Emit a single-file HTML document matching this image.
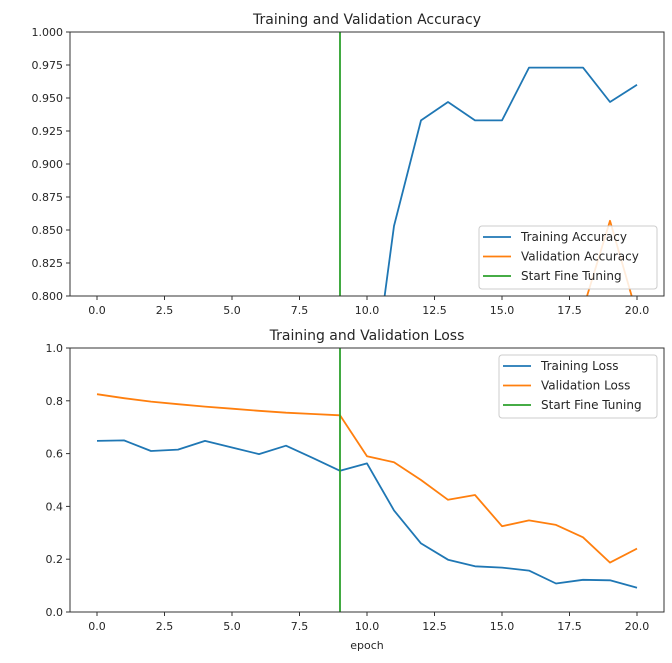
<!DOCTYPE html>
<html><head><meta charset="utf-8">
<style>
body{margin:0;background:#fff;}
svg text{font-family:"DejaVu Sans","Liberation Sans",sans-serif;fill:#262626;}
</style></head>
<body>
<svg id="chart" width="672" height="658" xmlns="http://www.w3.org/2000/svg">
<defs>
<clipPath id="c1"><rect x="70" y="32" width="594" height="264"/></clipPath>
<clipPath id="c2"><rect x="70" y="348" width="594" height="264"/></clipPath>
</defs>
</svg>
<script>
const epochs=[0,1,2,3,4,5,6,7,8,9,10,11,12,13,14,15,16,17,18,19,20];
const trainAcc=[0.62,0.63,0.64,0.64,0.63,0.64,0.65,0.64,0.66,0.68,0.70,0.853,0.933,0.947,0.933,0.933,0.973,0.973,0.973,0.947,0.96];
const valAcc=[0.5,0.5,0.5,0.5,0.5,0.5,0.5,0.5,0.5,0.5,0.55,0.6,0.65,0.7,0.7,0.75,0.75,0.77,0.79,0.857,0.786];
const trainLoss=[0.648,0.65,0.61,0.615,0.648,0.623,0.598,0.63,0.583,0.535,0.563,0.385,0.26,0.198,0.173,0.168,0.157,0.108,0.122,0.12,0.092];
const valLoss=[0.825,0.81,0.797,0.787,0.778,0.77,0.762,0.755,0.75,0.745,0.59,0.567,0.5,0.425,0.443,0.325,0.347,0.33,0.283,0.187,0.24];
const xTicks=[0,2.5,5,7.5,10,12.5,15,17.5,20];
const accTicks=[0.8,0.825,0.85,0.875,0.9,0.925,0.95,0.975,1.0];
const lossTicks=[0,0.2,0.4,0.6,0.8,1.0];
const fineTune=9;
const NS="http://www.w3.org/2000/svg";
const svg=document.getElementById('chart');
function el(t,a,p){const e=document.createElementNS(NS,t);for(const k in a)e.setAttribute(k,a[k]);(p||svg).appendChild(e);return e;}
const L=70,R=664,W=R-L;
const sx=v=>L+(v+1)/22*W;
function panel(top,ymin,ymax,ticks,dec,title,series,legend,clip,name){
  const bot=top+264;
  const sy=v=>bot-(v-ymin)/(ymax-ymin)*264;
  const g=el('g',{});
  
  
  const t=el('text',{x:(L+R)/2,y:top-8,'text-anchor':'middle','font-size':14},g);t.textContent=title;
  
  const pg=el('g',{'clip-path':'url(#'+clip+')'},g);
  series.forEach(s=>{
    const d=epochs.map((x,i)=>(i?'L':'M')+sx(x).toFixed(1)+','+sy(s.v[i]).toFixed(1)).join(' ');
    const p=el('path',{d:d,fill:'none',stroke:s.c,'stroke-width':1.8,'stroke-linejoin':'round'},pg);
    
  });
  const vl=el('line',{x1:sx(fineTune),x2:sx(fineTune),y1:top,y2:bot,stroke:'#2ca02c','stroke-width':1.8},pg);
  
  el('rect',{x:L,y:top,width:W,height:264,fill:'none',stroke:'#333','stroke-width':1},g);
  xTicks.forEach(v=>{
    el('line',{x1:sx(v),x2:sx(v),y1:bot,y2:bot+4,stroke:'#333'},g);
    const tx=el('text',{x:sx(v),y:bot+18,'text-anchor':'middle','font-size':11},g);tx.textContent=v.toFixed(1);
    
  });
  ticks.forEach(v=>{
    el('line',{x1:L-4,x2:L,y1:sy(v),y2:sy(v),stroke:'#333'},g);
    const ty=el('text',{x:L-7,y:sy(v)+4,'text-anchor':'end','font-size':11},g);ty.textContent=v.toFixed(dec);
    
  });
  const lg=el('g',{},g);
  
  el('rect',{x:legend.x,y:legend.y,width:legend.w,height:63,rx:3,fill:'#fff','fill-opacity':0.85,stroke:'#ccc'},lg);
  legend.items.forEach((it,i)=>{
    const yy=legend.y+11+i*19.5;
    el('line',{x1:legend.x+4,x2:legend.x+32,y1:yy,y2:yy,stroke:it.c,'stroke-width':1.8},lg);
    const lt=el('text',{x:legend.x+42,y:yy+4,'font-size':12},lg);lt.textContent=it.t;
    
  });
}
panel(32,0.8,1.0,accTicks,3,'Training and Validation Accuracy',
  [{v:trainAcc,c:'#1f77b4',n:'training-accuracy-line'},{v:valAcc,c:'#ff7f0e',n:'validation-accuracy-line'}],
  {x:479,y:226,w:178,items:[{c:'#1f77b4',t:'Training Accuracy'},{c:'#ff7f0e',t:'Validation Accuracy'},{c:'#2ca02c',t:'Start Fine Tuning'}]},'c1','accuracy-panel');
panel(348,0,1.0,lossTicks,1,'Training and Validation Loss',
  [{v:trainLoss,c:'#1f77b4',n:'training-loss-line'},{v:valLoss,c:'#ff7f0e',n:'validation-loss-line'}],
  {x:499,y:355,w:158,items:[{c:'#1f77b4',t:'Training Loss'},{c:'#ff7f0e',t:'Validation Loss'},{c:'#2ca02c',t:'Start Fine Tuning'}]},'c2','loss-panel');
const xl=el('text',{x:(L+R)/2,y:649,'text-anchor':'middle','font-size':11});xl.textContent='epoch';


</script>
</body></html>
